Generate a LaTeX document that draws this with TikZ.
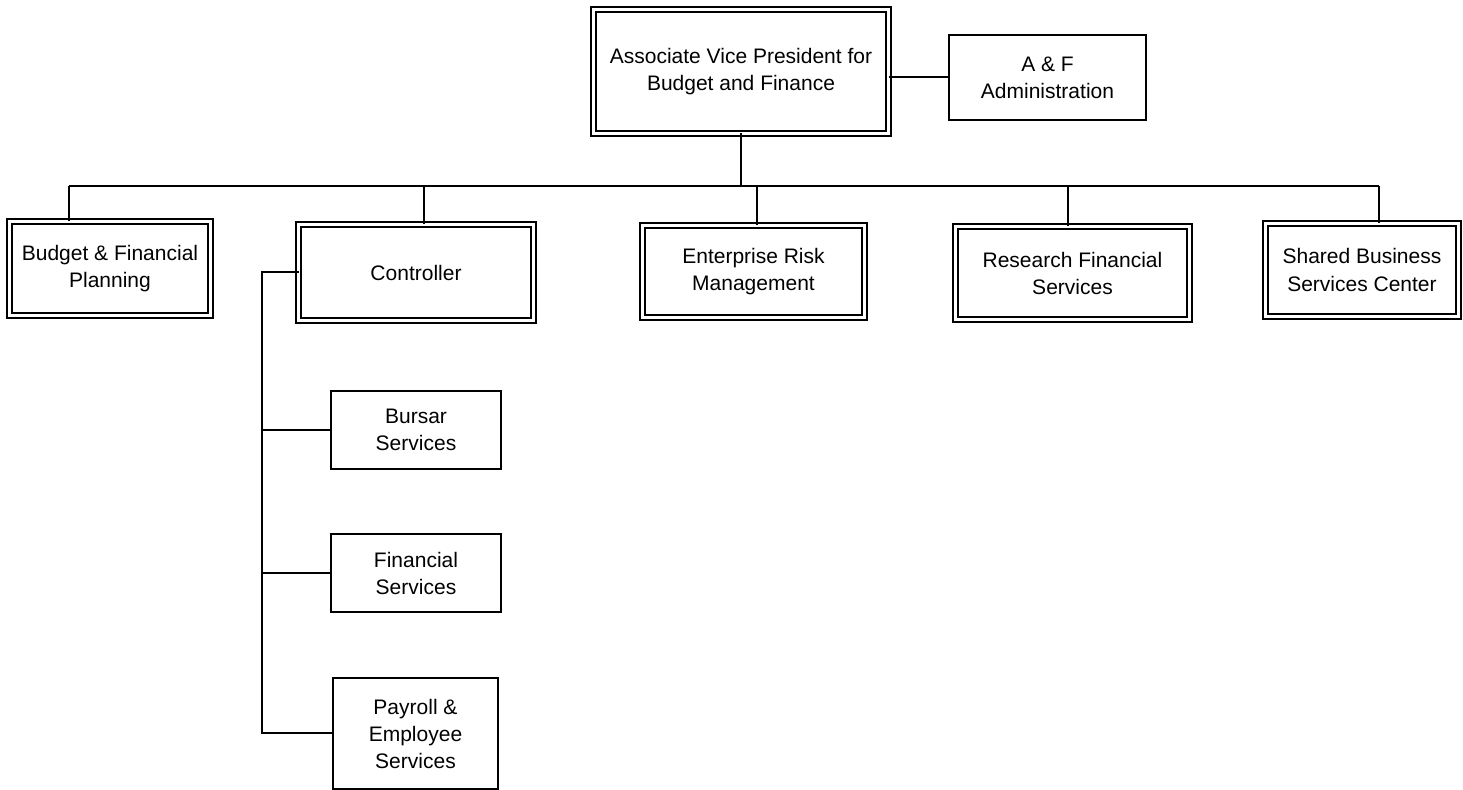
\documentclass[tikz,border=0pt]{standalone}
\usepackage{fontspec}
\setmainfont{Liberation Sans}
\begin{document}
\begin{tikzpicture}[x=0.5pt,y=-0.5pt,line width=1pt,
    box/.style={draw,align=center,inner sep=2pt,outer sep=0pt,font=\fontsize{10.5}{13.5}\selectfont},
    dbox/.style={box,line width=0.85pt,double,double distance=1.6pt}]
    \useasboundingbox (0,0) rectangle (1463,790);

    \node[dbox,minimum width=147.5pt,minimum height=62pt] (avp) at (741,71.5) {Associate Vice President for\\Budget and Finance};
    \node[box,minimum width=98.5pt,minimum height=42.5pt] (af) at (1047.5,77.5) {A \& F\\Administration};

    \node[dbox,minimum width=100.5pt,minimum height=47pt] (bfp) at (110,268.5) {Budget \& Financial\\Planning};
    \node[dbox,minimum width=117.5pt,minimum height=48pt] (ctl) at (416,272.5) {Controller};
    \node[dbox,minimum width=111pt,minimum height=46pt] (erm) at (753.5,271.5) {Enterprise Risk\\Management};
    \node[dbox,minimum width=117pt,minimum height=46.5pt] (rfs) at (1072.5,273) {Research Financial\\Services};
    \node[dbox,minimum width=96.5pt,minimum height=46.5pt] (sbs) at (1362,270) {Shared Business\\Services Center};

    \node[box,minimum width=85pt,minimum height=39pt] (bur) at (416,430) {Bursar\\Services};
    \node[box,minimum width=85pt,minimum height=39pt] (fin) at (416,573) {Financial\\Services};
    \node[box,minimum width=82.5pt,minimum height=55.5pt] (pes) at (415.5,733.5) {Payroll \&\\Employee\\Services};

    \coordinate (bl) at (69,186);
    \coordinate (b2) at (424,186);
    \coordinate (b3) at (757,186);
    \coordinate (b4) at (1068,186);
    \coordinate (br) at (1379,186);
    \coordinate (v) at (262,0);

    \draw (af.west) -- (af.west -| avp.east);
    \draw (avp.south) -- (avp.south |- bl);
    \draw (bl) -- (br);
    \draw (bl) -- (bl |- bfp.north);
    \draw (b2) -- (b2 |- ctl.north);
    \draw (b3) -- (b3 |- erm.north);
    \draw (b4) -- (b4 |- rfs.north);
    \draw (br) -- (br |- sbs.north);

    \draw (ctl.west) -- (ctl.west -| v) -- (pes.west -| v) -- (pes.west);
    \draw (bur.west) -- (bur.west -| v);
    \draw (fin.west) -- (fin.west -| v);
\end{tikzpicture}
\end{document}
